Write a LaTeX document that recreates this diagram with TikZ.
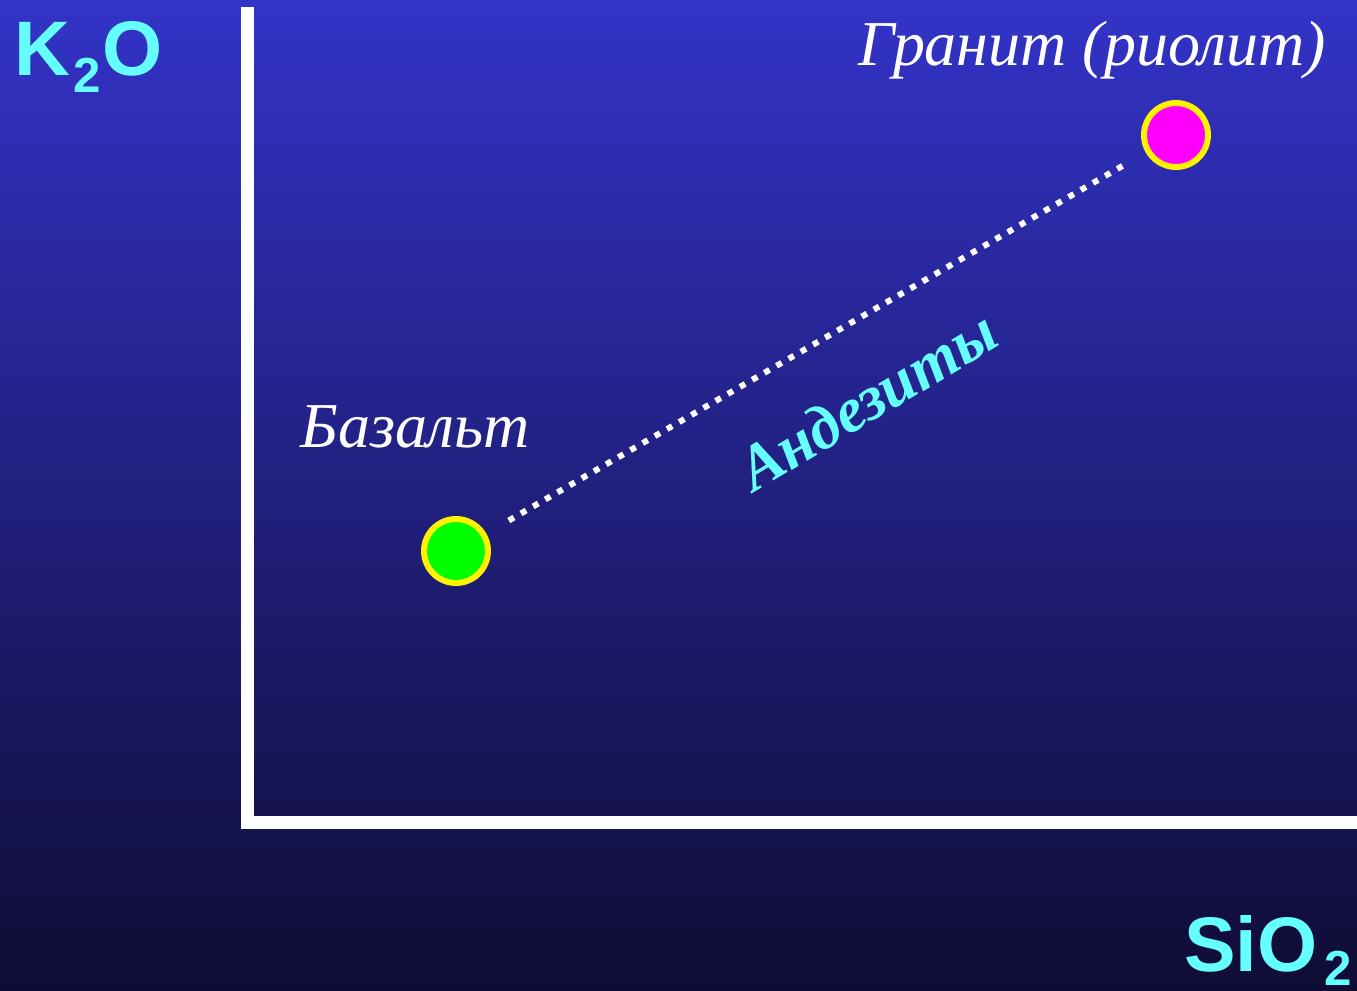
\documentclass[tikz,border=0pt]{standalone}
\usepackage{fontspec}
\setmainfont{Liberation Serif}
\newfontfamily\axisfont{Liberation Sans}
\usepackage{xcolor}

\definecolor{bgtop}{RGB}{51,51,200}
\definecolor{bgmid}{RGB}{38,38,150}
\definecolor{bgbottom}{RGB}{15,12,52}
\definecolor{labelcyan}{RGB}{102,255,255}
\definecolor{granitepink}{RGB}{255,0,255}
\definecolor{basaltgreen}{RGB}{0,255,0}

\begin{document}
\begin{tikzpicture}[
    x=0.02cm, y=-0.02cm,
    axis/.style={draw=white, line width=7.4pt},
    axislabel/.style={text=labelcyan, font=\axisfont\bfseries\fontsize{44pt}{44pt}\selectfont, inner sep=0pt},
    rocklabel/.style={text=white, font=\itshape\fontsize{36.4pt}{36.4pt}\selectfont, inner sep=0pt},
    rockdot/.style={circle, draw=yellow, line width=3.4pt, minimum size=1.28cm, inner sep=0pt},
    trend/.style={draw=white, line width=3.4pt, dash pattern=on 3.4pt off 4.6pt, shorten <=0.52cm, shorten >=0.52cm}
]

% Background
\shade[top color=bgtop, middle color=bgmid, bottom color=bgbottom] (0,0) rectangle (1357,991);
\useasboundingbox (0,0) rectangle (1357,991);

% Axes
\coordinate (ytop) at (247.5,7);
\coordinate (origin) at (247.5,822.5);
\coordinate (xend) at (1357,822.5);
\draw[axis] (ytop) -- (origin) -- (xend);

% Axis labels
\node[axislabel, anchor=base west] (k2o) at (14,75) {K\kern2pt\raisebox{-10pt}{\fontsize{28pt}{28pt}\selectfont 2}\kern1pt O};
\node[axislabel, anchor=base west] (sio2) at (1184,971) {SiO\kern4pt\raisebox{-8pt}{\fontsize{28pt}{28pt}\selectfont 2}};

% Rock points
\node[rockdot, fill=basaltgreen] (basaltdot) at (456,551) {};
\node[rockdot, fill=granitepink] (granitedot) at (1176,135) {};

% Trend between basalt and granite
\draw[trend] (basaltdot) -- (granitedot);

% Rock names
\node[rocklabel, anchor=base west] (basalt) at (300,447) {Базальт};
\node[rocklabel, anchor=base west] (granite) at (858,65) {Гранит (риолит)};
\node[text=labelcyan, font=\bfseries\itshape\fontsize{36pt}{36pt}\selectfont, rotate=31, inner sep=0pt] (andesite) at (867,400) {Андезиты};

\end{tikzpicture}
\end{document}
